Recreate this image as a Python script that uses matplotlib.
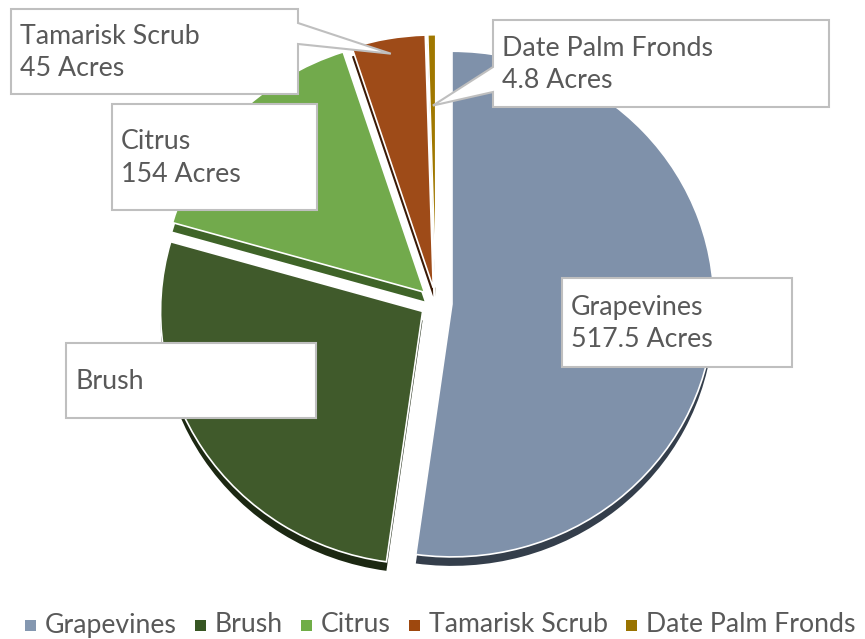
import matplotlib
matplotlib.use("Agg")
import matplotlib.pyplot as plt
import numpy as np
from matplotlib.patches import Polygon, Rectangle

# ---- data -------------------------------------------------------------
categories = ["Grapevines", "Brush", "Citrus", "Tamarisk Scrub", "Date Palm Fronds"]
acres = [517.5, 270, 154, 45, 4.8]
show_value = [True, False, True, True, True]

top_colors = ["#7f91aa", "#405a2b", "#72aa4c", "#9e4b18", "#a07800"]
side_colors = ["#343e4b", "#1c2812", "#3f6428", "#3a1a06", "#4a3800"]
legend_colors = ["#8497b0", "#375623", "#70ad47", "#9e480e", "#997300"]
text_color = "#595959"

# ---- canvas (pixel-like coordinates, y measured from the top) ----------
W, H = 865, 639
YS = 0.965                      # vertical squash of the tilted pie


def P(x, y):
    return (x, (H - y) / YS)


plt.rcParams["font.family"] = ["Lato", "DejaVu Sans"]
fig = plt.figure(figsize=(W / 100, H / 100), dpi=100)
ax = fig.add_axes([0, 0, 1, 1])

R = 262
explode = [16] * len(acres)
cx, cy = 436, 303
depth = 9

# side faces (extrusion) first, then the top faces
ax.pie(acres, colors=side_colors, startangle=90, counterclock=False,
       center=P(cx, cy + depth), radius=R, explode=explode,
       wedgeprops=dict(linewidth=0))
wedges, _ = ax.pie(acres, colors=top_colors, startangle=90, counterclock=False,
                   center=P(cx, cy), radius=R, explode=explode,
                   wedgeprops=dict(edgecolor="white", linewidth=1.2))

ax.set_xlim(0, W)
ax.set_ylim(0, H / YS)
ax.set_aspect("auto")
ax.axis("off")


def wedge_point(w, frac):
    mid = np.deg2rad(0.5 * (w.theta1 + w.theta2))
    return (w.center[0] + frac * w.r * np.cos(mid),
            w.center[1] + frac * w.r * np.sin(mid))


# ---- data callouts ------------------------------------------------------
# box: (x0, y0, x1, y1) in px; pointer: (edge, y_a, y_b, radial fraction)
callouts = [
    dict(idx=0, box=(562, 278, 792, 367), ptr=None),
    dict(idx=1, box=(66, 343, 316, 418), ptr=None),
    dict(idx=2, box=(112, 104, 317, 210), ptr=None),
    dict(idx=3, box=(11, 9, 298, 94), ptr=("right", 23, 44, 0.94)),
    dict(idx=4, box=(493, 20, 829, 107), ptr=("left", 67, 92, 0.72)),
]

for c in callouts:
    i = c["idx"]
    x0, y0, x1, y1 = c["box"]
    if c["ptr"] is None:
        verts = [P(x0, y0), P(x1, y0), P(x1, y1), P(x0, y1)]
    else:
        edge, ya, yb, frac = c["ptr"]
        tip = wedge_point(wedges[i], frac)
        if edge == "right":
            verts = [P(x0, y0), P(x1, y0), P(x1, ya), tip, P(x1, yb),
                     P(x1, y1), P(x0, y1)]
        else:
            verts = [P(x0, y0), P(x1, y0), P(x1, y1), P(x0, y1),
                     P(x0, yb), tip, P(x0, ya)]
    ax.add_patch(Polygon(verts, closed=True, facecolor="white",
                         edgecolor="#bfbfbf", linewidth=1.5, zorder=5))
    txt = categories[i]
    if show_value[i]:
        txt += f"\n{acres[i]:g} Acres"
    tx, ty = P(x0 + 9, 0.5 * (y0 + y1) + 1)
    ax.text(tx, ty, txt, ha="left", va="center", fontsize=19.3,
            color=text_color, linespacing=1.36, zorder=6)

# ---- legend row (laid out by measured text widths) -----------------------
renderer = fig.canvas.get_renderer()
leg_y = 625
mk, mk_gap, item_gap = 11, 9, 18
items = []
for name in categories:
    t = ax.text(0, 0, name, fontsize=19.2, color=text_color,
                ha="left", va="center", zorder=6)
    items.append((t, t.get_window_extent(renderer).width))
total = sum(mk + mk_gap + w for _, w in items) + item_gap * (len(items) - 1)
x = 440 - total / 2
for (t, w), col in zip(items, legend_colors):
    ax.add_patch(Rectangle(P(x, leg_y + mk / 2), mk, mk / YS,
                           facecolor=col, edgecolor="none", zorder=6))
    t.set_position(P(x + mk + mk_gap, leg_y))
    x += mk + mk_gap + w + item_gap

fig.savefig("out.png", dpi=100)
